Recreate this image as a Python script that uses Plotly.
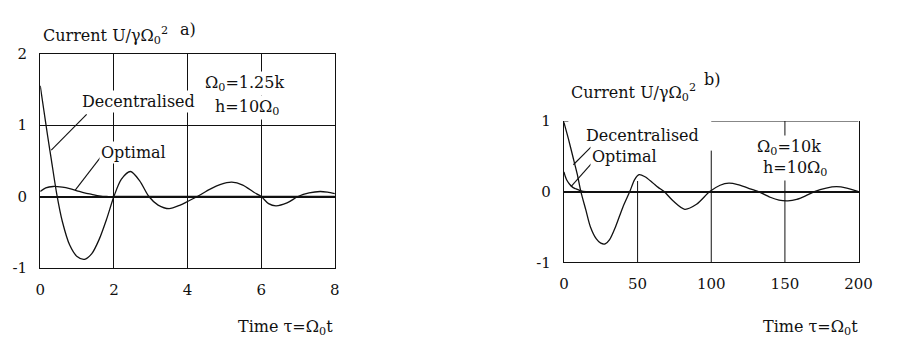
import plotly.graph_objects as go

# ---------------- data ----------------
# Panel a) Omega0 = 1.25k
ta_dec = [0, 0.1, 0.2, 0.3, 0.45, 0.6, 0.8, 1.0, 1.2, 1.4, 1.6, 1.8, 2.0, 2.2, 2.45,
          2.7, 2.95, 3.2, 3.5, 3.8, 4.0, 4.3, 4.6, 4.9, 5.2, 5.5, 5.8, 6.0, 6.2, 6.4,
          6.7, 7.0, 7.3, 7.6, 7.8, 8.0]
ua_dec = [1.55, 1.2, 0.85, 0.52, 0.03, -0.35, -0.68, -0.84, -0.88, -0.8, -0.6, -0.32, 0.0, 0.24, 0.35,
          0.22, 0.0, -0.12, -0.17, -0.12, -0.07, 0.01, 0.1, 0.17, 0.2, 0.16, 0.06, 0.0, -0.1, -0.13,
          -0.09, 0.0, 0.05, 0.07, 0.06, 0.04]
ta_opt = [0, 0.15, 0.35, 0.6, 0.8, 1.0, 1.2, 1.4, 1.6, 1.8, 2.0, 3.0, 4.0, 5.0, 6.0, 7.0, 8.0]
ua_opt = [0.07, 0.12, 0.14, 0.13, 0.11, 0.08, 0.05, 0.03, 0.01, 0.0, 0, 0, 0, 0, 0, 0, 0]

# Panel b) Omega0 = 10k
tb_dec = [0, 3, 6, 9, 11.5, 15, 18, 22, 25, 28, 31, 35, 40, 44.7, 48, 51, 55, 60, 64, 68,
          74, 82, 90, 99, 106, 112, 118, 125, 132, 140, 146, 152, 158, 164, 170, 178, 185, 192, 200]
ub_dec = [0.98, 0.75, 0.5, 0.25, 0.0, -0.27, -0.5, -0.67, -0.73, -0.74, -0.68, -0.5, -0.22, 0.0, 0.17,
          0.24, 0.21, 0.13, 0.06, 0.0, -0.13, -0.25, -0.18, 0.0, 0.09, 0.12, 0.1, 0.05, 0.0, -0.08,
          -0.12, -0.13, -0.11, -0.06, 0.0, 0.05, 0.07, 0.05, 0.0]
tb_opt = [0, 1, 2, 4, 6, 8, 11, 15, 20, 50, 100, 150, 200]
ub_opt = [0.28, 0.21, 0.16, 0.1, 0.06, 0.04, 0.015, 0.0, 0, 0, 0, 0, 0]

xa_ticks = [0, 2, 4, 6, 8]
ya_ticks = [-1, 0, 1, 2]
ya_text = ["-1", "0", "1", "2"]
xb_ticks = [0, 50, 100, 150, 200]
yb_ticks = [-1, 0, 1]
yb_text = ["-1", "0", "1"]

# ---------------- figure ----------------
W, H = 899, 350
FONT = "DejaVu Serif"
INK = "#111111"


def px(x):
    return x / W


def py(y):
    return 1 - y / H


fig = go.Figure()
line_style = dict(color=INK, width=1.3, shape="spline", smoothing=0.8)
fig.add_trace(go.Scatter(x=ta_dec, y=ua_dec, mode="lines", line=line_style, xaxis="x", yaxis="y", showlegend=False))
fig.add_trace(go.Scatter(x=ta_opt, y=ua_opt, mode="lines", line=line_style, xaxis="x", yaxis="y", showlegend=False))
fig.add_trace(go.Scatter(x=tb_dec, y=ub_dec, mode="lines", line=line_style, xaxis="x2", yaxis="y2", showlegend=False))
fig.add_trace(go.Scatter(x=tb_opt, y=ub_opt, mode="lines", line=line_style, xaxis="x2", yaxis="y2", showlegend=False))

tickfont = dict(family=FONT, size=15, color=INK)

fig.update_layout(
    width=W, height=H,
    margin=dict(l=0, r=0, t=0, b=0),
    paper_bgcolor="white", plot_bgcolor="white",
    xaxis=dict(domain=[px(36), px(337)], range=[0, 8], tickvals=xa_ticks, showgrid=True,
               gridcolor=INK, gridwidth=1, zeroline=False, showline=True, linecolor=INK,
               linewidth=1.3, mirror=True, ticks="", tickfont=tickfont, anchor="y",
               ticklabelstandoff=8),
    yaxis=dict(domain=[py(273), py(47)], range=[-1, 2], tickvals=ya_ticks, ticktext=ya_text,
               showgrid=True, gridcolor=INK, gridwidth=1, zeroline=True, zerolinecolor=INK,
               zerolinewidth=2, showline=True, linecolor=INK, linewidth=1.3, mirror=True,
               ticks="", tickfont=tickfont, anchor="x", ticklabelstandoff=9),
    xaxis2=dict(domain=[px(571), px(872)], range=[0, 200], tickvals=xb_ticks, showgrid=False,
                zeroline=False, showline=True, linecolor=INK, linewidth=1.3, ticks="",
                tickfont=tickfont, anchor="y2", ticklabelstandoff=8),
    yaxis2=dict(domain=[py(267), py(118)], range=[-1, 1], tickvals=yb_ticks, ticktext=yb_text,
                showgrid=False, zeroline=True, zerolinecolor=INK, zerolinewidth=2, showline=True,
                linecolor=INK, linewidth=1.3, mirror=True, ticks="", tickfont=tickfont,
                anchor="x2", ticklabelstandoff=9),
)

shapes = []
# panel b partial grid and partial top border
for xv, ytop in [(50, 0.15), (100, 0.58), (150, 1.0)]:
    shapes.append(dict(type="line", xref="x2", yref="y2", x0=xv, x1=xv, y0=-1, y1=ytop,
                       line=dict(color=INK, width=1), layer="below"))
shapes.append(dict(type="line", xref="x2", yref="y2", x0=100, x1=200, y0=1, y1=1,
                   line=dict(color=INK, width=1.3)))
shapes.append(dict(type="line", xref="x2", yref="y2", x0=0, x1=3, y0=1, y1=1,
                   line=dict(color=INK, width=1.3)))
# label pointers
ptr = dict(color=INK, width=1.1)
shapes.append(dict(type="line", xref="x", yref="y", x0=1.26, y0=1.15, x1=0.30, y1=0.65, line=ptr))
shapes.append(dict(type="line", xref="x", yref="y", x0=1.64, y0=0.55, x1=0.95, y1=0.09, line=ptr))
shapes.append(dict(type="line", xref="x2", yref="y2", x0=18.8, y0=0.64, x1=6.4, y1=0.38, line=ptr))
shapes.append(dict(type="line", xref="x2", yref="y2", x0=18.8, y0=0.4, x1=4.8, y1=0.07, line=ptr))
fig.update_layout(shapes=shapes)


def note(text, x, y, anchor="left", bg=None, size=16, yanchor="middle"):
    fig.add_annotation(text=text, x=px(x), y=py(y), xref="paper", yref="paper",
                       xanchor=anchor, yanchor=yanchor, showarrow=False,
                       font=dict(family=FONT, size=size, color=INK),
                       bgcolor=bg if bg else "rgba(0,0,0,0)", borderpad=1)


# panel a texts
note("Current U/γΩ<sub>0</sub><sup>2</sup>", 37, 28)
note("a)", 177, 22)
note("Decentralised", 77, 98, bg="white")
note("Optimal", 96, 151, bg="white")
note("Ω<sub>0</sub>=1.25k", 202, 79, bg="white")
note("h=10Ω<sub>0</sub>", 212, 104, bg="white")
note("Time τ=Ω<sub>0</sub>t", 337, 349, anchor="right", yanchor="bottom")

# panel b texts
note("Current U/γΩ<sub>0</sub><sup>2</sup>", 576, 88)
note("b)", 712, 74)
note("Decentralised", 591, 133, bg="white")
note("Optimal", 598, 156, bg="white")
note("Ω<sub>0</sub>=10k", 766, 146, bg="white")
note("h=10Ω<sub>0</sub>", 772, 168, bg="white")
note("Time τ=Ω<sub>0</sub>t", 873, 349, anchor="right", yanchor="bottom")

fig.write_html("out.html")
